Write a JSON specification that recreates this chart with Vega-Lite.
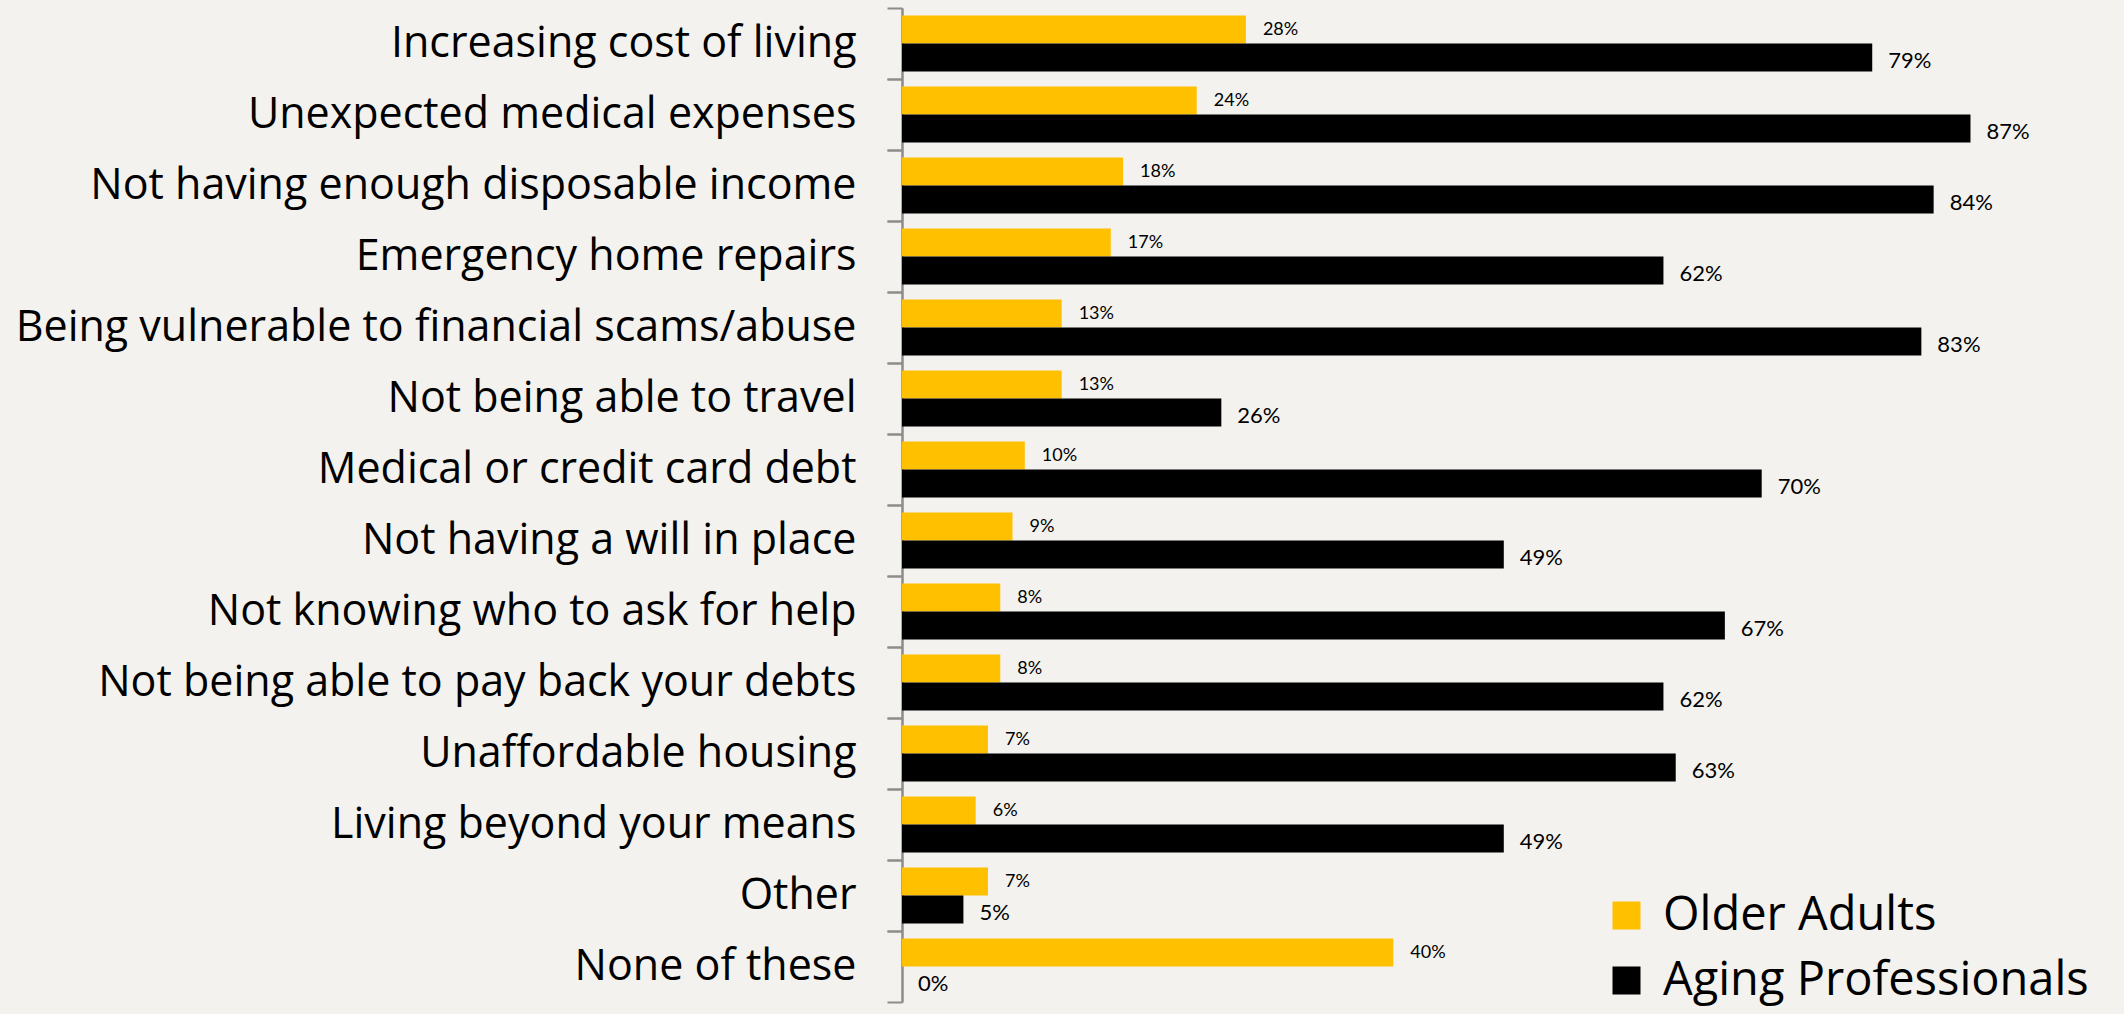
{
  "$schema": "https://vega.github.io/schema/vega-lite/v6.json",
  "width": 1222,
  "height": 994,
  "autosize": {"type": "none"},
  "padding": {"left": 902, "top": 8, "right": 0, "bottom": 12},
  "background": "#f3f2ee",
  "config": {"view": {"stroke": null}, "font": "Lato"},
  "data": {
    "values": [
      {"cat": "Increasing cost of living", "group": "Older Adults", "value": 28, "label": "28%"},
      {"cat": "Increasing cost of living", "group": "Aging Professionals", "value": 79, "label": "79%"},
      {"cat": "Unexpected medical expenses", "group": "Older Adults", "value": 24, "label": "24%"},
      {"cat": "Unexpected medical expenses", "group": "Aging Professionals", "value": 87, "label": "87%"},
      {"cat": "Not having enough disposable income", "group": "Older Adults", "value": 18, "label": "18%"},
      {"cat": "Not having enough disposable income", "group": "Aging Professionals", "value": 84, "label": "84%"},
      {"cat": "Emergency home repairs", "group": "Older Adults", "value": 17, "label": "17%"},
      {"cat": "Emergency home repairs", "group": "Aging Professionals", "value": 62, "label": "62%"},
      {"cat": "Being vulnerable to financial scams/abuse", "group": "Older Adults", "value": 13, "label": "13%"},
      {"cat": "Being vulnerable to financial scams/abuse", "group": "Aging Professionals", "value": 83, "label": "83%"},
      {"cat": "Not being able to travel", "group": "Older Adults", "value": 13, "label": "13%"},
      {"cat": "Not being able to travel", "group": "Aging Professionals", "value": 26, "label": "26%"},
      {"cat": "Medical or credit card debt", "group": "Older Adults", "value": 10, "label": "10%"},
      {"cat": "Medical or credit card debt", "group": "Aging Professionals", "value": 70, "label": "70%"},
      {"cat": "Not having a will in place", "group": "Older Adults", "value": 9, "label": "9%"},
      {"cat": "Not having a will in place", "group": "Aging Professionals", "value": 49, "label": "49%"},
      {"cat": "Not knowing who to ask for help", "group": "Older Adults", "value": 8, "label": "8%"},
      {"cat": "Not knowing who to ask for help", "group": "Aging Professionals", "value": 67, "label": "67%"},
      {"cat": "Not being able to pay back your debts", "group": "Older Adults", "value": 8, "label": "8%"},
      {"cat": "Not being able to pay back your debts", "group": "Aging Professionals", "value": 62, "label": "62%"},
      {"cat": "Unaffordable housing", "group": "Older Adults", "value": 7, "label": "7%"},
      {"cat": "Unaffordable housing", "group": "Aging Professionals", "value": 63, "label": "63%"},
      {"cat": "Living beyond your means", "group": "Older Adults", "value": 6, "label": "6%"},
      {"cat": "Living beyond your means", "group": "Aging Professionals", "value": 49, "label": "49%"},
      {"cat": "Other", "group": "Older Adults", "value": 7, "label": "7%"},
      {"cat": "Other", "group": "Aging Professionals", "value": 5, "label": "5%"},
      {"cat": "None of these", "group": "Older Adults", "value": 40, "label": "40%"},
      {"cat": "None of these", "group": "Aging Professionals", "value": 0, "label": "0%"}
    ]
  },
  "encoding": {
    "yOffset": {"field": "group", "type": "nominal", "sort": ["Older Adults", "Aging Professionals"], "scale": {"paddingOuter": 0.27, "paddingInner": 0}},
    "x": {"field": "value", "type": "quantitative", "scale": {"domain": [0, 99.5]}, "axis": null}
  },
  "layer": [
    {
      "mark": {"type": "bar"},
      "encoding": {
        "y": {"field": "cat", "type": "nominal", "sort": null, "scale": {"paddingInner": 0, "paddingOuter": 0},
          "axis": {"orient": "left", "title": null, "ticks": false, "tickSize": 0, "domain": false, "labelFont": "Open Sans", "labelFontSize": 43, "labelColor": "#000000", "labelPadding": 46, "labelLimit": 0}},
        "color": {"field": "group", "type": "nominal",
          "scale": {"domain": ["Older Adults", "Aging Professionals"], "range": ["#FFC000", "#000000"]},
          "legend": {"orient": "none", "legendX": 701, "legendY": 884, "title": null, "symbolType": "square", "symbolSize": 784, "symbolStrokeWidth": 0, "labelFont": "Open Sans", "labelFontSize": 47, "labelColor": "#000000", "labelOffset": 13, "rowPadding": 17, "labelLimit": 0}}
      }
    },
    {
      "transform": [{"filter": "datum.group == 'Older Adults'"}],
      "mark": {"type": "text", "align": "left", "baseline": "middle", "dx": 17, "font": "Lato", "fontSize": 18, "color": "#000000"},
      "encoding": {
        "y": {"field": "cat", "type": "nominal", "sort": null,
          "axis": {"orient": "left", "title": null, "labels": false, "bandPosition": 0, "domain": true, "domainColor": "#8c8c8c", "domainWidth": 2, "tickColor": "#8c8c8c", "tickWidth": 2, "tickSize": 15}},
        "text": {"field": "label"}
      }
    },
    {
      "transform": [{"filter": "datum.group == 'Aging Professionals'"}],
      "mark": {"type": "text", "align": "left", "baseline": "middle", "dx": 16, "dy": 4, "font": "Lato", "fontSize": 22, "color": "#000000"},
      "encoding": {
        "y": {"field": "cat", "type": "nominal", "sort": null,
          "axis": {"orient": "left", "title": null, "labels": false, "bandPosition": 1, "domain": true, "domainColor": "#8c8c8c", "domainWidth": 2, "tickColor": "#8c8c8c", "tickWidth": 2, "tickSize": 15}},
        "text": {"field": "label"}
      }
    }
  ],
  "resolve": {"axis": {"y": "independent"}}
}
